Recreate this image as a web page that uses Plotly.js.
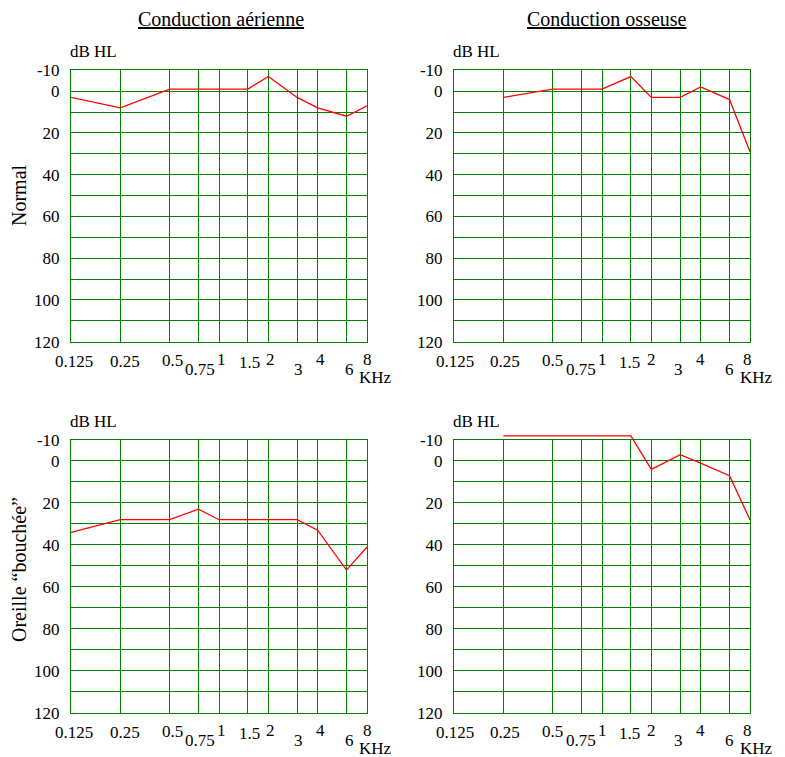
<!DOCTYPE html>
<html>
<head>
<meta charset="utf-8">
<script src="https://cdn.plot.ly/plotly-3.0.1.min.js"></script>
<style>html,body{margin:0;padding:0;background:#fff;}#chart{width:785px;height:757px;}</style>
</head>
<body>
<div id="chart"></div>
<script>
// ---------- data ----------
const freqs = [0.125, 0.25, 0.5, 0.75, 1, 1.5, 2, 3, 4, 6, 8];
const freqLabels = ['0.125', '0.25', '0.5', '0.75', '1', '1.5', '2', '3', '4', '6', '8'];
const freqUnit = 'KHz';
const airNormal    = [3, 8, -1, -1, -1, -1, -7, 3, 8, 12, 7];
const boneNormal   = [null, 3, -1, -1, -1, -7, 3, 3, -2, 4, 29];
const airBlocked   = [34, 28, 28, 23, 28, 28, 28, 28, 33, 52, 41];
const boneBlocked  = [null, -12, -12, -12, -12, -12, 4, -3, 1, 7, 28];
const yTickVals = [-10, 0, 20, 40, 60, 80, 100, 120];
const yTickText = ['-10', '0', '20', '40', '60', '80', '100', '120'];
const yMinorVals = [10, 30, 50, 70, 90, 110];
const yRange = [120, -10];
const colTitles = ['Conduction aérienne', 'Conduction osseuse'];
const rowTitles = ['Normal', 'Oreille \u201cbouch\u00e9e\u201d'];
const unitLabel = 'dB HL';

// ---------- layout geometry (pixels) ----------
const W = 785, H = 757;
const colX = [[71, 367], [454, 750]];
const rowY = [[70.3, 341.7], [440, 712.7]];
const extPx = 12; // data area extends above grid so lines may exceed -10
const labelDy = [20, 20, 19, 28, 17.5, 21, 17.5, 28, 17.5, 27.5, 17.5];
const labelDx = [0.5, 1.6, 0, -1, 0, -1, 0, -1.4, 0, 0, -2.5];
const colDx = [2.6, 0];
const FONT = 'Liberation Serif';
const GREEN = '#008000';

const panels = [
  {row: 0, col: 0, y: airNormal},
  {row: 0, col: 1, y: boneNormal},
  {row: 1, col: 0, y: airBlocked},
  {row: 1, col: 1, y: boneBlocked}
];

const layout = {
  width: W, height: H,
  margin: {l: 0, r: 0, t: 0, b: 0},
  paper_bgcolor: '#ffffff',
  plot_bgcolor: 'rgba(0,0,0,0)',
  showlegend: false,
  font: {family: FONT, size: 17, color: '#000'},
  annotations: []
};
const traces = [];
const xr = [Math.log10(freqs[0]), Math.log10(freqs[freqs.length - 1])];

panels.forEach((p, i) => {
  const g = 2 * i + 1, d = 2 * i + 2;
  const [x0, x1] = colX[p.col];
  const [y0, y1] = rowY[p.row];
  const xd = [x0 / W, x1 / W];
  const yd = [1 - y1 / H, 1 - y0 / H];
  const pxPerDb = (y1 - y0) / (yRange[0] - yRange[1]);
  const ydData = [1 - y1 / H, 1 - (y0 - extPx) / H];
  const rangeData = [yRange[0], yRange[1] - extPx / pxPerDb];

  layout['xaxis' + g] = {
    type: 'log', range: xr, domain: xd, anchor: 'y' + g,
    tickmode: 'array', tickvals: freqs, showticklabels: false, ticks: '',
    showgrid: true, gridcolor: GREEN, gridwidth: 1,
    showline: true, mirror: true, linecolor: GREEN, linewidth: 1,
    zeroline: false, fixedrange: true
  };
  layout['yaxis' + g] = {
    range: yRange, domain: yd, anchor: 'x' + g, autorange: false,
    tickmode: 'array', tickvals: yTickVals, ticktext: yTickText, ticks: '',
    ticklabelstandoff: 7,
    tickfont: {family: FONT, size: 17, color: '#000'},
    showgrid: true, gridcolor: GREEN, gridwidth: 1,
    minor: {tickmode: 'array', tickvals: yMinorVals, showgrid: true, gridcolor: GREEN, gridwidth: 1, ticks: ''},
    showline: true, mirror: true, linecolor: GREEN, linewidth: 1,
    zeroline: false, fixedrange: true
  };
  layout['xaxis' + d] = {
    type: 'log', range: xr, domain: xd, anchor: 'y' + d, visible: false,
    showgrid: false, zeroline: false, fixedrange: true
  };
  layout['yaxis' + d] = {
    range: rangeData, domain: ydData, anchor: 'x' + d, autorange: false, visible: false,
    showgrid: false, zeroline: false, fixedrange: true
  };

  traces.push({
    type: 'scatter', mode: 'lines', x: freqs, y: p.y,
    xaxis: 'x' + d, yaxis: 'y' + d,
    line: {color: '#ff0000', width: 1.3}, connectgaps: false,
    hoverinfo: 'skip'
  });

  // "dB HL"
  layout.annotations.push({
    text: unitLabel, xref: 'x' + g + ' domain', yref: 'y' + g + ' domain',
    x: 0, y: 1, xanchor: 'left', yanchor: 'middle', xshift: -3, yshift: 18.5,
    showarrow: false, font: {family: FONT, size: 17, color: '#000'}
  });
  // frequency labels
  freqs.forEach((f, k) => {
    layout.annotations.push({
      text: freqLabels[k], xref: 'x' + g, yref: 'y' + g + ' domain',
      x: Math.log10(f), y: 0, xanchor: 'center', yanchor: 'middle',
      xshift: labelDx[k] + colDx[p.col], yshift: -labelDy[k],
      showarrow: false, font: {family: FONT, size: 17, color: '#000'}
    });
  });
  layout.annotations.push({
    text: freqUnit, xref: 'x' + g, yref: 'y' + g + ' domain',
    x: Math.log10(freqs[freqs.length - 1]), y: 0, xanchor: 'center', yanchor: 'middle',
    xshift: 6 + colDx[p.col], yshift: -35.5, height: 19,
    showarrow: false, font: {family: FONT, size: 17, color: '#000'}
  });
});

// column titles
[[220.5, 19], [606.5, 19]].forEach((pos, c) => {
  layout.annotations.push({
    text: '<u>' + colTitles[c] + '</u>', xref: 'paper', yref: 'paper',
    x: pos[0] / W, y: 1 - pos[1] / H, xanchor: 'center', yanchor: 'middle',
    showarrow: false, font: {family: FONT, size: 20, color: '#000'}
  });
});
// row titles
[[19, 195], [19, 570]].forEach((pos, r) => {
  layout.annotations.push({
    text: rowTitles[r], xref: 'paper', yref: 'paper', textangle: -90,
    x: pos[0] / W, y: 1 - pos[1] / H, xanchor: 'center', yanchor: 'middle',
    showarrow: false, font: {family: FONT, size: 20, color: '#000'}
  });
});

Plotly.newPlot('chart', traces, layout, {staticPlot: true, displayModeBar: false});
</script>
</body>
</html>
